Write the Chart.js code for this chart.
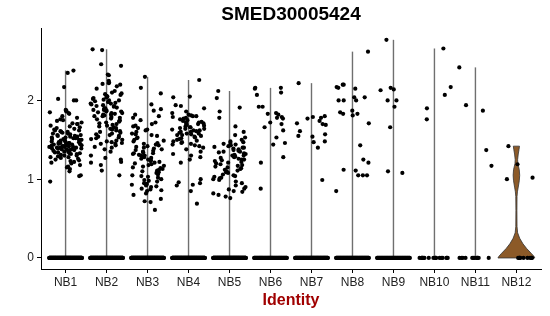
<!DOCTYPE html>
<html lang="en">
<head>
  <meta charset="UTF-8">
  <title>SMED30005424</title>
  <script src="https://cdn.jsdelivr.net/npm/chart.js"></script>
  <style>
    body { margin: 0; background: #fff; }
    #wrap { width: 550px; height: 316px; }
  </style>
</head>
<body>
  <div id="wrap"><canvas id="grafico" width="550" height="316"></canvas></div>

  <script>
    const grupos = ['NB1','NB2','NB3','NB4','NB5','NB6','NB7','NB8','NB9','NB10','NB11','NB12'];

    // non-zero expression values per identity
    const nb1 = [2.38,2.35,2.17,2.02,2.00,2.00,1.88,1.87,1.86,1.85,1.84,1.83,1.80,1.78,1.76,1.75,1.74,1.72,1.71,1.70,1.70,1.68,1.67,1.66,1.65,1.64,1.63,1.62,1.62,1.61,1.60,1.60,1.59,1.58,1.58,1.57,1.56,1.56,1.55,1.55,1.54,1.54,1.53,1.53,1.52,1.52,1.51,1.51,1.50,1.50,1.49,1.49,1.48,1.48,1.47,1.47,1.46,1.46,1.46,1.45,1.45,1.45,1.44,1.44,1.44,1.43,1.43,1.43,1.42,1.42,1.42,1.41,1.41,1.41,1.40,1.40,1.40,1.39,1.39,1.39,1.38,1.38,1.38,1.37,1.37,1.36,1.36,1.35,1.35,1.34,1.34,1.33,1.33,1.32,1.32,1.31,1.30,1.30,1.29,1.28,1.28,1.27,1.26,1.25,1.24,1.23,1.22,1.21,1.20,1.18,1.16,1.15,1.13,1.10,1.05,1.04,0.97];
    const nb2 = [2.65,2.64,2.46,2.44,2.33,2.32,2.25,2.23,2.22,2.21,2.20,2.18,2.15,2.12,2.10,2.09,2.08,2.07,2.06,2.05,2.04,2.03,2.02,2.01,2.00,2.00,1.99,1.98,1.97,1.96,1.96,1.95,1.94,1.93,1.93,1.92,1.91,1.90,1.90,1.89,1.88,1.88,1.87,1.86,1.86,1.85,1.84,1.84,1.83,1.82,1.82,1.81,1.80,1.80,1.79,1.78,1.77,1.76,1.75,1.74,1.73,1.72,1.71,1.70,1.69,1.68,1.67,1.66,1.65,1.64,1.63,1.62,1.61,1.60,1.59,1.58,1.57,1.56,1.55,1.54,1.53,1.52,1.51,1.50,1.49,1.48,1.47,1.46,1.45,1.45,1.43,1.41,1.40,1.38,1.35,1.30,1.27,1.25,1.22,1.21,1.18,1.11,1.05];
    const nb3 = [2.30,2.16,2.09,1.95,1.89,1.87,1.82,1.80,1.78,1.75,1.72,1.70,1.68,1.67,1.65,1.63,1.62,1.60,1.58,1.57,1.56,1.55,1.53,1.52,1.50,1.49,1.48,1.46,1.45,1.44,1.43,1.42,1.41,1.40,1.39,1.38,1.37,1.36,1.35,1.34,1.33,1.33,1.32,1.31,1.30,1.30,1.29,1.28,1.27,1.26,1.25,1.24,1.23,1.22,1.21,1.20,1.19,1.18,1.17,1.16,1.15,1.14,1.13,1.12,1.11,1.10,1.09,1.08,1.06,1.05,1.04,1.03,1.02,1.00,0.99,0.98,0.97,0.95,0.94,0.93,0.92,0.91,0.90,0.88,0.87,0.86,0.85,0.82,0.80,0.75,0.72,0.71,0.61];
    const nb4 = [2.26,2.05,2.04,1.94,1.93,1.90,1.86,1.84,1.82,1.81,1.80,1.80,1.79,1.78,1.77,1.76,1.75,1.74,1.73,1.72,1.72,1.71,1.70,1.70,1.69,1.68,1.67,1.66,1.66,1.65,1.64,1.64,1.63,1.62,1.62,1.61,1.60,1.60,1.59,1.58,1.58,1.57,1.56,1.56,1.55,1.54,1.53,1.52,1.51,1.50,1.49,1.48,1.47,1.46,1.45,1.44,1.43,1.42,1.40,1.38,1.35,1.32,1.30,1.28,1.25,1.21,1.00,0.96,0.95,0.93,0.92,0.85,0.69];
    const nb5 = [2.12,2.03,1.91,1.86,1.78,1.67,1.60,1.56,1.53,1.50,1.48,1.47,1.46,1.45,1.44,1.43,1.42,1.41,1.40,1.40,1.39,1.38,1.37,1.36,1.35,1.35,1.34,1.33,1.32,1.31,1.30,1.30,1.29,1.28,1.27,1.26,1.25,1.25,1.24,1.23,1.22,1.21,1.20,1.19,1.18,1.17,1.16,1.15,1.14,1.13,1.12,1.11,1.10,1.09,1.08,1.06,1.05,1.04,1.03,1.02,1.01,1.00,0.99,0.97,0.95,0.92,0.90,0.88,0.87,0.85,0.84,0.82,0.80,0.78,0.76];
    const nb6 = [2.16,2.16,2.15,2.10,2.07,1.92,1.92,1.84,1.83,1.82,1.79,1.78,1.77,1.72,1.70,1.66,1.62,1.53,1.46,1.44,1.28,1.21,0.88];
    const nb7 = [2.22,1.80,1.79,1.78,1.77,1.74,1.71,1.70,1.69,1.61,1.57,1.55,1.54,1.48,1.47,1.40,0.99];
    const nb8 = [2.62,2.20,2.20,2.17,2.16,2.15,2.04,2.04,2.00,2.00,2.00,1.87,1.85,1.83,1.83,1.81,1.71,1.43,1.25,1.21,1.12,1.11,1.05,1.05,1.05,0.85];
    const nb9 = [2.77,2.16,2.14,2.13,2.00,2.00,1.92,1.66,1.10,1.08];
    const nb10 = [2.66,2.17,2.07,1.90,1.76];
    const nb11 = [2.42,1.94,1.87,1.37,1.17];
    const nb12 = [1.42,1.19,1.02,1.00];
    const valores = [nb1, nb2, nb3, nb4, nb5, nb6, nb7, nb8, nb9, nb10, nb11, nb12];

    // cells with zero expression per identity
    const zeros = [130, 130, 130, 130, 130, 70, 90, 80, 60, 18, 12, 9];

    // NB12 violin outline: expression level -> half width (category units)
    const violinNivel = [0.00, 0.02, 0.06, 0.12, 0.18, 0.25, 0.32, 0.40, 0.60, 0.78, 0.84, 0.90, 0.98, 1.05, 1.12, 1.20, 1.25, 1.32, 1.38, 1.42];
    const violinLargura = [0.45, 0.43, 0.36, 0.25, 0.16, 0.08, 0.03, 0.015, 0.012, 0.015, 0.025, 0.045, 0.07, 0.08, 0.07, 0.035, 0.03, 0.045, 0.065, 0.075];

    const yTicks = [0, 1, 2];

    // deterministic jitter (+/- 0.4 category), hash based
    function jitter(k, g) {
      const s = Math.sin(k * 12.9898 + g * 78.233) * 43758.5453;
      return (s - Math.floor(s)) * 0.8 - 0.4;
    }

    const pontos = [];
    valores.forEach((vals, g) => {
      for (let k = 0; k < zeros[g]; k++) {
        // dense groups: solid band; sparse groups: scattered dots
        const dx = zeros[g] > 50 ? (k / (zeros[g] - 1)) * 0.8 - 0.4 : jitter(k + 101, g + 7);
        pontos.push({ x: g + 1 + dx, y: 0 });
      }
      vals.forEach((v, k) => pontos.push({ x: g + 1 + jitter(k + 1, g + 1), y: v }));
    });

    const violinPlugin = {
      id: 'violinos',
      beforeDatasetsDraw(chart) {
        const ctx = chart.ctx;
        const sx = chart.scales.x, sy = chart.scales.y;
        ctx.save();
        valores.forEach((vals, g) => {
          if (g === 11) return;
          const top = Math.max(...vals);
          const px = sx.getPixelForValue(g + 1);
          ctx.strokeStyle = 'rgba(50,50,50,0.7)';
          ctx.lineWidth = 1.4;
          ctx.beginPath();
          ctx.moveTo(px, sy.getPixelForValue(0));
          ctx.lineTo(px, sy.getPixelForValue(top));
          ctx.stroke();
        });
        // NB12 violin
        const c = 12;
        ctx.beginPath();
        violinNivel.forEach((lv, i) => {
          const x = sx.getPixelForValue(c + violinLargura[i]);
          const y = sy.getPixelForValue(lv);
          if (i === 0) ctx.moveTo(x, y); else ctx.lineTo(x, y);
        });
        for (let i = violinNivel.length - 1; i >= 0; i--) {
          ctx.lineTo(sx.getPixelForValue(c - violinLargura[i]), sy.getPixelForValue(violinNivel[i]));
        }
        ctx.closePath();
        ctx.fillStyle = '#8c5a28';
        ctx.fill();
        ctx.strokeStyle = '#333';
        ctx.lineWidth = 0.8;
        ctx.stroke();
        ctx.restore();
      }
    };

    new Chart(document.getElementById('grafico'), {
      type: 'scatter',
      data: {
        datasets: [{
          data: pontos,
          backgroundColor: '#000',
          borderWidth: 0,
          pointRadius: 2.1,
          pointHoverRadius: 2.1
        }]
      },
      options: {
        responsive: false,
        animation: false,
        layout: { padding: { left: 0, right: 9, top: 0, bottom: 0 } },
        plugins: {
          legend: { display: false },
          tooltip: { enabled: false },
          title: {
            display: true,
            text: 'SMED30005424',
            fullSize: false,
            color: '#000',
            font: { family: 'Liberation Sans, Arial, sans-serif', size: 19, weight: 'bold' },
            padding: { top: 3, bottom: 3 }
          }
        },
        scales: {
          x: {
            type: 'linear',
            min: 0.4,
            max: 12.6,
            afterBuildTicks: s => { s.ticks = grupos.map((_, i) => ({ value: i + 1 })); },
            afterFit: s => { s.height = 47; },
            ticks: {
              callback: (v) => grupos[Math.round(v) - 1] || '',
              color: '#222',
              padding: 2,
              maxRotation: 0,
              autoSkip: false,
              font: { family: 'Liberation Sans, Arial, sans-serif', size: 12 }
            },
            grid: { display: true, drawOnChartArea: false, drawTicks: true, tickLength: 4, color: '#000' },
            border: { display: true, color: '#000', width: 1 },
            title: {
              display: true,
              text: 'Identity',
              color: '#a00000',
              font: { family: 'Liberation Sans, Arial, sans-serif', size: 16, weight: 'bold' },
              padding: { top: 0, bottom: 6 }
            }
          },
          y: {
            min: -0.14,
            max: 2.91,
            afterBuildTicks: s => { s.ticks = yTicks.map(v => ({ value: v })); },
            afterFit: s => { s.width = 41; },
            ticks: {
              color: '#222',
              padding: 3,
              font: { family: 'Liberation Sans, Arial, sans-serif', size: 12 }
            },
            grid: { display: true, drawOnChartArea: false, drawTicks: true, tickLength: 4, color: '#000' },
            border: { display: true, color: '#000', width: 1 }
          }
        }
      },
      plugins: [violinPlugin]
    });
  </script>
</body>
</html>
